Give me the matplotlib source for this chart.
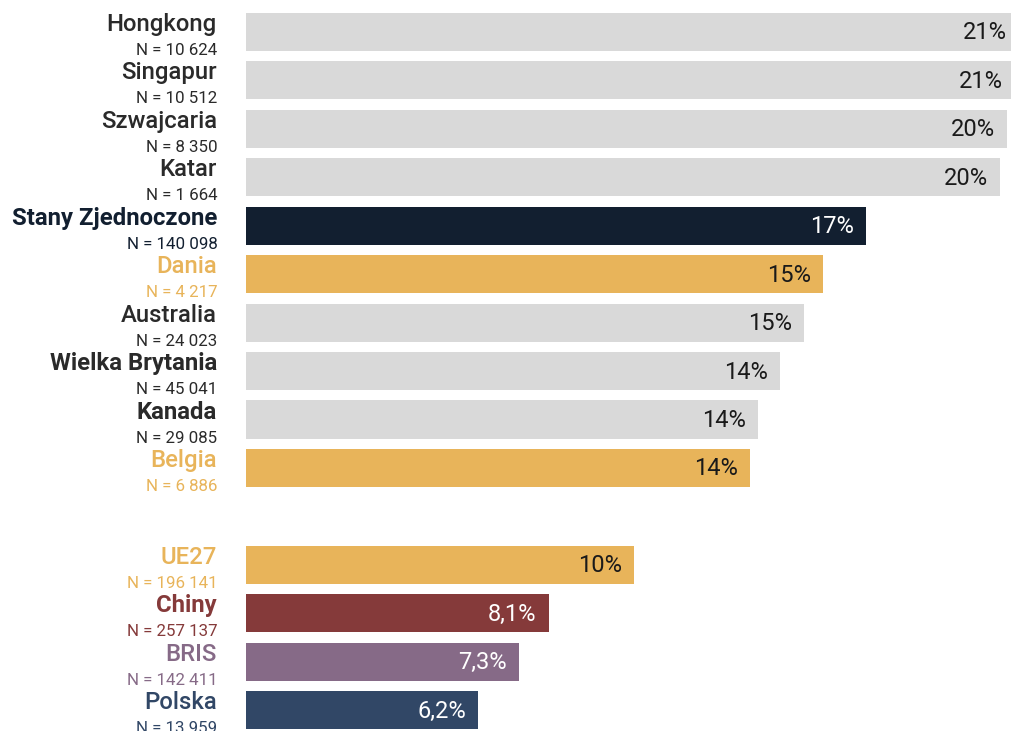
import numpy as np
import matplotlib.pyplot as plt

plt.rcParams['font.family'] = ['Roboto', 'DejaVu Sans']

# Share of respondents, per country / region
countries = ['Hongkong', 'Singapur', 'Szwajcaria', 'Katar', 'Stany Zjednoczone',
             'Dania', 'Australia', 'Wielka Brytania', 'Kanada', 'Belgia',
             'UE27', 'Chiny', 'BRIS', 'Polska']
sample_n = ['10 624', '10 512', '8 350', '1 664', '140 098',
            '4 217', '24 023', '45 041', '29 085', '6 886',
            '196 141', '257 137', '142 411', '13 959']
values = [20.7, 20.6, 20.4, 20.2, 16.6,
          15.45, 14.95, 14.3, 13.7, 13.5,
          10.4, 8.1, 7.3, 6.2]

GRAY = '#d9d9d9'
NAVY = '#121f30'
GOLD = '#e8b45a'
RED = '#853a3a'
PURPLE = '#866a87'
BLUE = '#314766'
DARK = '#2a2a2a'

bar_colors = [GRAY, GRAY, GRAY, GRAY, NAVY, GOLD, GRAY, GRAY, GRAY, GOLD,
              GOLD, RED, PURPLE, BLUE]
name_colors = [DARK, DARK, DARK, DARK, NAVY, GOLD, DARK, DARK, DARK, GOLD,
               GOLD, RED, PURPLE, BLUE]
bold = {'Stany Zjednoczone', 'Wielka Brytania', 'Kanada', 'Chiny'}
light_text = {NAVY, RED, PURPLE, BLUE}

# leave an empty row between countries and the aggregates
rows = np.arange(len(countries), dtype=float)
rows[10:] += 1

fig = plt.figure(figsize=(10.12, 7.31), dpi=100)
left = 246.5 / 1012
ax = fig.add_axes([left, 0, 1 - left, 1])
ax.barh(rows, values, height=0.785, color=bar_colors)
ax.set_xlim(0, 765.5 / 37.3)
ax.set_ylim(14.43, -0.66)
ax.axis('off')

pt = 0.72  # one pixel in points
for y, name, n, v, bc, nc in zip(rows, countries, sample_n, values, bar_colors, name_colors):
    w = 'bold' if name in bold else 'medium'
    ax.annotate(name, xy=(0, y), xytext=(-29.5 * pt, 1 * pt), textcoords='offset points',
                ha='right', va='baseline', fontsize=17.2, fontweight=w, color=nc,
                annotation_clip=False)
    ax.annotate(f'N = {n}', xy=(0, y), xytext=(-29 * pt, -23 * pt), textcoords='offset points',
                ha='right', va='baseline', fontsize=12.2, color=nc, annotation_clip=False)
    label = f'{round(v)}%' if v >= 10 else f'{v:.1f}'.replace('.', ',') + '%'
    ax.annotate(label, xy=(v, y), xytext=(-12 * pt, -7.5 * pt), textcoords='offset points',
                ha='right', va='baseline', fontsize=17,
                color='white' if bc in light_text else '#1a1a1a', annotation_clip=False)

fig.savefig('out.png', dpi=100)
